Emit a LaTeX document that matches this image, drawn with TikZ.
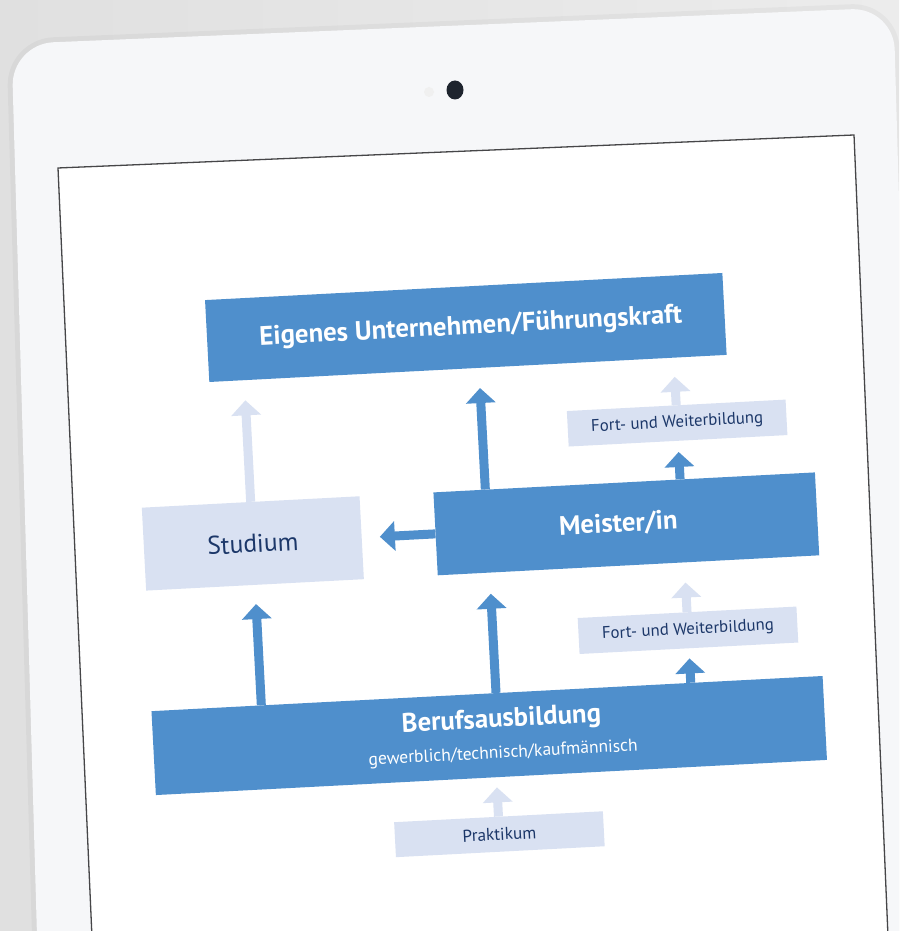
\documentclass[tikz,border=0pt]{standalone}
\usepackage{fontspec}
\setmainfont{PT Sans}
\usetikzlibrary{arrows.meta,calc}

\definecolor{bluebox}{RGB}{79,143,204}
\definecolor{palefill}{RGB}{217,225,242}
\definecolor{navytext}{RGB}{28,55,105}
\definecolor{wallleft}{RGB}{224,224,224}
\definecolor{wallright}{RGB}{236,236,236}
\definecolor{padwhite}{RGB}{246,247,249}
\definecolor{camdark}{RGB}{30,36,46}
\definecolor{screenedge}{RGB}{70,70,72}

\tikzset{
    darkbox/.style={fill=bluebox,text=white,inner sep=0pt,align=center,
        font=\bfseries\fontsize{26.8}{31}\selectfont},
    palebox/.style={fill=palefill,text=navytext,inner sep=0pt,align=center},
    darr/.style={draw=bluebox,line width=9pt,-{Triangle[width=29pt,length=15pt]}},
    larr/.style={draw=palefill,line width=9pt,-{Triangle[width=29pt,length=15pt]}}
}

\begin{document}
\begin{tikzpicture}[x=1pt,y=1pt]
            \useasboundingbox (0,0) rectangle (899,931);
            \clip (0,0) rectangle (899,931);
            \shade[left color=wallleft,right color=wallright] (0,0) rectangle (899,931);
            \draw[line width=10pt,black,opacity=0.03,rounded corners=42] (38,-40) -- (11.5,887) -- (893.5,923.5) -- (921,-40) -- cycle;
            \fill[padwhite,rounded corners=42] (38,-40) -- (11.5,887) -- (893.5,923.5) -- (921,-40) -- cycle;
            \fill[gray!12] (429,839) circle (5);
            \fill[camdark] (455,841) ellipse (8.5 and 9.5);
            \draw[screenedge,fill=white,line width=1.3pt] (93,-29) -- (58,763) -- (854,796) -- (889,-29);
            \begin{scope}[rotate around={3:(500,391)},transform shape]
                \node[darkbox,minimum width=518pt,minimum height=82pt] (eigenes) at (477,605) {\hspace*{10pt}Eigenes Unternehmen/Führungskraft};
                \node[palebox,minimum width=218pt,minimum height=83pt,font=\fontsize{25.5}{29}\selectfont] (studium) at (253,400.5) {Studium};
                \node[darkbox,minimum width=382pt,minimum height=83pt] (meister) at (627,400.5) {Meister/in\hspace*{16pt}};
                \node[palebox,minimum width=219pt,minimum height=35.5pt,font=\fontsize{16.8}{19}\selectfont] (fortoben) at (683,498.5) {Fort- und Weiterbildung};
                \node[palebox,minimum width=219pt,minimum height=36pt,font=\fontsize{16.8}{19}\selectfont] (fortunten) at (683,291) {Fort- und Weiterbildung};
                \node[darkbox,minimum width=672pt,minimum height=84pt] (beruf) at (479,196.3) {\hspace*{26pt}Berufsausbildung\\{\mdseries\fontsize{17.5}{21}\selectfont\hspace*{26pt}gewerblich/technisch/kaufmännisch}};
                \node[palebox,minimum width=209pt,minimum height=35pt,font=\fontsize{17.2}{19}\selectfont] (praktikum) at (484,97.2) {Praktikum};
                \coordinate (midcol) at (488,300);
                \draw[darr,shorten >=20pt] ($(meister.north west)!(midcol)!(meister.north east)$) -- ($(eigenes.south west)!(midcol)!(eigenes.south east)$);
                \draw[darr,shorten >=21pt] ($(beruf.north west)!(midcol)!(beruf.north east)$) -- ($(meister.south west)!(midcol)!(meister.south east)$);
                \draw[larr,shorten >=20pt] (studium.north) -- ($(eigenes.south west)!(studium.north)!(eigenes.south east)$);
                \draw[darr,shorten >=19pt] ($(beruf.north west)!(studium.south)!(beruf.north east)$) -- (studium.south);
                \draw[darr,shorten >=18pt] (meister.west) -- (studium.east);
                \draw[larr,shorten >=19pt] (fortoben.north) -- ($(eigenes.south west)!(fortoben.north)!(eigenes.south east)$);
                \draw[darr,shorten >=11pt] ($(meister.north west)!(fortoben.south)!(meister.north east)$) -- (fortoben.south);
                \draw[larr,shorten >=20pt] (fortunten.north) -- ($(meister.south west)!(fortunten.north)!(meister.south east)$);
                \draw[darr,shorten >=10pt] ($(beruf.north west)!(fortunten.south)!(beruf.north east)$) -- (fortunten.south);
                \draw[larr,shorten >=10pt] (praktikum.north) -- ($(beruf.south west)!(praktikum.north)!(beruf.south east)$);
            \end{scope}
\end{tikzpicture}
\end{document}
